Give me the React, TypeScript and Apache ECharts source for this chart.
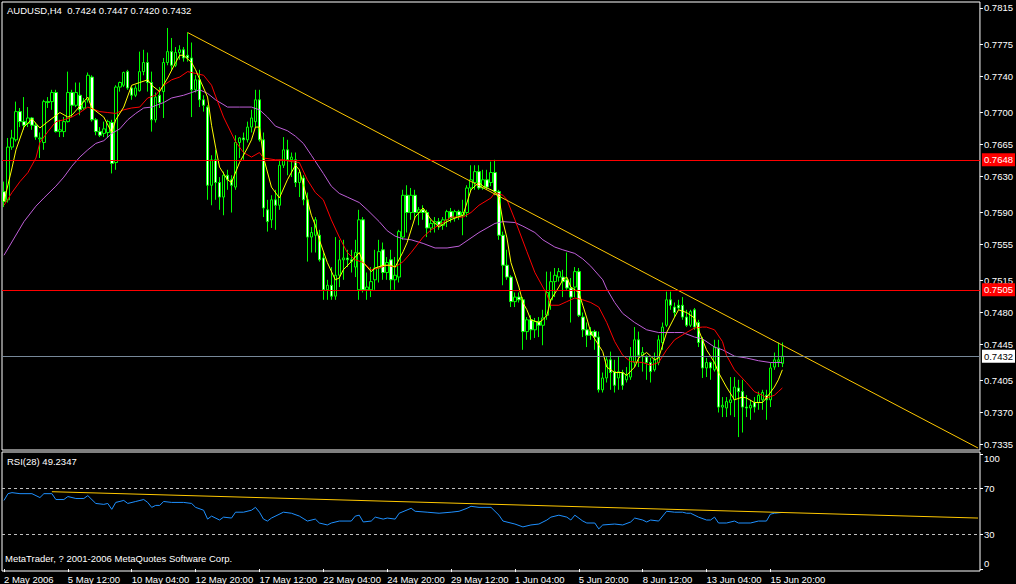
import React, { useEffect, useRef } from "react";
import * as echarts from "echarts";

// ---------- data ----------
const SYMBOL = "AUDUSD,H4";
const lastBar = [0.7424, 0.7447, 0.742, 0.7432]; // O H L C
const rsiLast = 49.2347;
const dateTicks = [
  "2 May 2006", "5 May 12:00", "10 May 04:00", "12 May 20:00", "17 May 12:00", "22 May 04:00",
  "24 May 20:00", "29 May 12:00", "1 Jun 04:00", "5 Jun 20:00", "8 Jun 12:00", "13 Jun 04:00", "15 Jun 20:00",
];
const BARS_PER_TICK = 16;
const SLOT_COUNT = 245;

const priceTicks = [0.7815, 0.7775, 0.774, 0.77, 0.7665, 0.763, 0.759, 0.7555, 0.7515, 0.748, 0.7445, 0.7405, 0.737, 0.7335];
const rsiTicks = [0, 30, 70, 100];
const hLines = [0.7648, 0.7505, 0.7432];
const rsiLevels = [70, 30];

const open = [
  0.7613, 0.7604, 0.7662, 0.767, 0.7701, 0.769, 0.7688, 0.7694, 0.7686, 0.7671,
  0.7667, 0.7712, 0.7712, 0.7722, 0.7679, 0.7679, 0.769, 0.7722, 0.7708, 0.7719,
  0.7705, 0.7714, 0.7739, 0.7692, 0.7679, 0.7677, 0.7678, 0.7689, 0.7645, 0.7728,
  0.773, 0.7745, 0.7727, 0.7719, 0.7724, 0.7745, 0.7755, 0.7733, 0.7692, 0.7719,
  0.7723, 0.7755, 0.7767, 0.7752, 0.7766, 0.7769, 0.7763, 0.776, 0.7725, 0.7736,
  0.7714, 0.7706, 0.762, 0.7648, 0.7623, 0.7607, 0.7631, 0.7626, 0.7618, 0.7667,
  0.7672, 0.767, 0.7684, 0.769, 0.7714, 0.767, 0.7593, 0.7582, 0.7604, 0.7598,
  0.7642, 0.7659, 0.7648, 0.7648, 0.7623, 0.7628, 0.7604, 0.7563, 0.7565, 0.7565,
  0.754, 0.7505, 0.751, 0.7498, 0.7521, 0.7538, 0.754, 0.7538, 0.753, 0.7505,
  0.7582, 0.7505, 0.7505, 0.7516, 0.7529, 0.7549, 0.7524, 0.7538, 0.7516, 0.7519,
  0.7563, 0.7609, 0.759, 0.7609, 0.759, 0.7593, 0.759, 0.7573, 0.7578, 0.758,
  0.7576, 0.7582, 0.7591, 0.7584, 0.7591, 0.7587, 0.759, 0.7617, 0.7623, 0.7635,
  0.7617, 0.7626, 0.7623, 0.7634, 0.7613, 0.7565, 0.7532, 0.7519, 0.7492, 0.7497,
  0.7494, 0.7459, 0.7472, 0.7461, 0.747, 0.7466, 0.7477, 0.7494, 0.7514, 0.7519,
  0.7519, 0.7516, 0.7507, 0.7508, 0.7525, 0.7475, 0.7461, 0.7459, 0.7459, 0.7453,
  0.7395, 0.7408, 0.7428, 0.7415, 0.7408, 0.7414, 0.7406, 0.7409, 0.7425, 0.745,
  0.7433, 0.7431, 0.7425, 0.7417, 0.7425, 0.7447, 0.7466, 0.7494, 0.7486, 0.7488,
  0.7488, 0.7475, 0.7466, 0.7483, 0.7469, 0.745, 0.7419, 0.7425, 0.7417, 0.7441,
  0.7376, 0.7375, 0.7381, 0.7384, 0.7397, 0.7393, 0.7376, 0.7375, 0.7381, 0.7381,
  0.7384, 0.7389, 0.7384, 0.742, 0.7426, 0.7424,
];
const high = [
  0.7624, 0.7672, 0.7681, 0.7712, 0.7705, 0.7717, 0.7706, 0.7695, 0.7689, 0.7678,
  0.7714, 0.7717, 0.7725, 0.7725, 0.7692, 0.7695, 0.7745, 0.7725, 0.7733, 0.7733,
  0.7716, 0.7744, 0.7741, 0.7694, 0.7684, 0.769, 0.7692, 0.7692, 0.773, 0.7734,
  0.7745, 0.7747, 0.7728, 0.773, 0.7767, 0.7769, 0.7766, 0.7745, 0.7722, 0.7728,
  0.776, 0.7793, 0.7782, 0.7772, 0.7774, 0.7772, 0.7788, 0.7777, 0.7741, 0.7747,
  0.7719, 0.7708, 0.7653, 0.7659, 0.7629, 0.7635, 0.7637, 0.7631, 0.7675, 0.7673,
  0.7678, 0.769, 0.7703, 0.7725, 0.7725, 0.7678, 0.7604, 0.7609, 0.7615, 0.7648,
  0.7673, 0.767, 0.7656, 0.7656, 0.7637, 0.7631, 0.7612, 0.7574, 0.7585, 0.7571,
  0.7546, 0.7516, 0.753, 0.7563, 0.756, 0.756, 0.7549, 0.7549, 0.756, 0.7593,
  0.7585, 0.7524, 0.753, 0.7549, 0.756, 0.7557, 0.7541, 0.7549, 0.7541, 0.7571,
  0.7615, 0.762, 0.7617, 0.7615, 0.7596, 0.7598, 0.7593, 0.7582, 0.7585, 0.7584,
  0.7585, 0.7593, 0.7595, 0.7593, 0.7593, 0.7604, 0.762, 0.7642, 0.7642, 0.7642,
  0.7637, 0.7637, 0.7646, 0.7648, 0.7615, 0.7569, 0.7549, 0.7521, 0.7502, 0.7502,
  0.7497, 0.7475, 0.7477, 0.7474, 0.7475, 0.7483, 0.7525, 0.7525, 0.7529, 0.7529,
  0.7527, 0.7546, 0.7518, 0.753, 0.7529, 0.748, 0.7469, 0.7464, 0.7461, 0.7459,
  0.7414, 0.7431, 0.7437, 0.7428, 0.7431, 0.7417, 0.742, 0.7442, 0.7464, 0.7459,
  0.7442, 0.7433, 0.743, 0.7436, 0.7455, 0.7469, 0.7503, 0.7503, 0.7491, 0.7494,
  0.7497, 0.7483, 0.7483, 0.7485, 0.7472, 0.7453, 0.743, 0.7426, 0.745, 0.745,
  0.7387, 0.7387, 0.7409, 0.7409, 0.7406, 0.7406, 0.7389, 0.7384, 0.7387, 0.7393,
  0.7395, 0.7395, 0.7425, 0.7436, 0.7447, 0.7447,
];
const low = [
  0.7596, 0.7601, 0.7659, 0.7668, 0.7684, 0.7681, 0.7684, 0.7681, 0.767, 0.765,
  0.7659, 0.7705, 0.7703, 0.7678, 0.7673, 0.7673, 0.7689, 0.7695, 0.7706, 0.7697,
  0.7703, 0.7711, 0.769, 0.7675, 0.7673, 0.7673, 0.7672, 0.7633, 0.7637, 0.7723,
  0.7728, 0.7725, 0.7714, 0.7717, 0.7723, 0.7741, 0.7723, 0.7679, 0.7689, 0.7705,
  0.7694, 0.7752, 0.7747, 0.775, 0.7758, 0.7756, 0.7756, 0.7695, 0.7722, 0.7706,
  0.7701, 0.7604, 0.7598, 0.7604, 0.7593, 0.7587, 0.7615, 0.759, 0.7615, 0.765,
  0.7648, 0.7667, 0.7678, 0.7684, 0.7668, 0.7585, 0.7569, 0.7573, 0.7571, 0.7593,
  0.7639, 0.7631, 0.7629, 0.7618, 0.7607, 0.7598, 0.7536, 0.7546, 0.7546, 0.7536,
  0.7494, 0.7494, 0.7494, 0.7494, 0.7508, 0.7516, 0.753, 0.7524, 0.7519, 0.7494,
  0.7502, 0.7494, 0.7497, 0.7505, 0.7513, 0.7516, 0.7516, 0.7505, 0.7505, 0.7513,
  0.756, 0.7568, 0.7582, 0.7582, 0.7576, 0.7582, 0.7563, 0.7568, 0.7568, 0.7571,
  0.7571, 0.7574, 0.7579, 0.758, 0.7582, 0.7565, 0.7585, 0.7613, 0.7615, 0.7615,
  0.7615, 0.7615, 0.7619, 0.7609, 0.756, 0.751, 0.7516, 0.7486, 0.7486, 0.7491,
  0.7439, 0.745, 0.745, 0.7452, 0.7453, 0.7444, 0.7472, 0.7483, 0.7497, 0.7514,
  0.7497, 0.7505, 0.7469, 0.7497, 0.7475, 0.7453, 0.7442, 0.745, 0.7439, 0.7392,
  0.7392, 0.7403, 0.7395, 0.7392, 0.7395, 0.7395, 0.7403, 0.7406, 0.742, 0.742,
  0.7415, 0.7406, 0.7403, 0.7415, 0.7422, 0.7439, 0.7464, 0.7483, 0.7475, 0.7483,
  0.7472, 0.7464, 0.7464, 0.7461, 0.7442, 0.7408, 0.7409, 0.7406, 0.7415, 0.737,
  0.7365, 0.7365, 0.7367, 0.7365, 0.7343, 0.7348, 0.7365, 0.7362, 0.737, 0.7373,
  0.7373, 0.7362, 0.7376, 0.7417, 0.742, 0.742,
];
const close = [
  0.7602, 0.7662, 0.7672, 0.7701, 0.769, 0.7686, 0.7694, 0.7686, 0.7673, 0.7672,
  0.7712, 0.7711, 0.7722, 0.7679, 0.7681, 0.769, 0.7722, 0.7708, 0.7722, 0.7703,
  0.7712, 0.7741, 0.7692, 0.7679, 0.7675, 0.7682, 0.769, 0.7644, 0.7728, 0.7733,
  0.7744, 0.7727, 0.7719, 0.7727, 0.7745, 0.7755, 0.7733, 0.7692, 0.7717, 0.7711,
  0.7755, 0.7767, 0.7752, 0.7766, 0.7769, 0.776, 0.776, 0.7725, 0.7736, 0.7714,
  0.7708, 0.762, 0.7648, 0.7623, 0.7607, 0.7631, 0.7626, 0.762, 0.7667, 0.7672,
  0.767, 0.7684, 0.7694, 0.7714, 0.767, 0.7595, 0.758, 0.7604, 0.7598, 0.7642,
  0.7659, 0.7648, 0.7651, 0.7623, 0.7634, 0.7604, 0.7563, 0.7568, 0.7582, 0.7538,
  0.7505, 0.751, 0.7498, 0.7521, 0.7538, 0.754, 0.7538, 0.7536, 0.7546, 0.7582,
  0.7505, 0.7508, 0.7514, 0.7529, 0.7547, 0.7524, 0.7535, 0.7516, 0.7521, 0.7569,
  0.7609, 0.759, 0.7609, 0.759, 0.7593, 0.759, 0.7573, 0.7578, 0.758, 0.7576,
  0.7582, 0.7591, 0.7584, 0.7591, 0.7587, 0.759, 0.7617, 0.7626, 0.7635, 0.7617,
  0.7626, 0.7618, 0.7634, 0.7613, 0.7565, 0.7532, 0.7519, 0.7492, 0.7497, 0.7494,
  0.7459, 0.7472, 0.7461, 0.747, 0.7466, 0.7474, 0.7502, 0.7514, 0.7521, 0.7525,
  0.7514, 0.7507, 0.7497, 0.7525, 0.7477, 0.7461, 0.7455, 0.7455, 0.7453, 0.7395,
  0.7408, 0.7428, 0.7414, 0.74, 0.7415, 0.74, 0.7411, 0.7431, 0.745, 0.7433,
  0.7436, 0.7425, 0.7415, 0.7428, 0.745, 0.7464, 0.7494, 0.7488, 0.748, 0.7485,
  0.7475, 0.7466, 0.7481, 0.7464, 0.7447, 0.7419, 0.7425, 0.7419, 0.7442, 0.7376,
  0.7378, 0.7382, 0.7384, 0.7398, 0.7393, 0.7376, 0.7375, 0.7378, 0.7376, 0.7389,
  0.7392, 0.7384, 0.7419, 0.7428, 0.7428, 0.7432,
];

// moving averages: [bar index, price]
const maFast: [number, number][] = [
  [0, 0.7602], [2, 0.7639], [3, 0.7659], [5, 0.7684], [7, 0.7693], [9, 0.7683], [11, 0.769], [14, 0.77], [16, 0.7695], [17, 0.7697],
  [19, 0.7707], [21, 0.7717], [22, 0.7705], [25, 0.7695], [27, 0.7678], [28, 0.7692], [30, 0.7706], [32, 0.773], [34, 0.7733], [36, 0.7736],
  [37, 0.773], [39, 0.7723], [41, 0.7738], [43, 0.7755], [44, 0.7763], [45, 0.7763], [47, 0.7755], [48, 0.7747], [51, 0.7717], [52, 0.7686],
  [53, 0.7662], [54, 0.764], [56, 0.7626], [57, 0.7623], [59, 0.7645], [61, 0.7661], [62, 0.767], [63, 0.7684], [64, 0.7684], [65, 0.7651],
  [67, 0.7618], [69, 0.7606], [71, 0.7626], [73, 0.7642], [74, 0.7637], [76, 0.7604], [77, 0.7587], [78, 0.7576], [79, 0.756], [81, 0.7535],
  [83, 0.7516], [84, 0.7518], [85, 0.7527], [87, 0.7536], [89, 0.7546], [90, 0.7535], [92, 0.7525], [93, 0.7529], [95, 0.7532], [97, 0.7532],
  [98, 0.753], [100, 0.7547], [101, 0.7557], [103, 0.7585], [105, 0.7595], [107, 0.7582], [109, 0.7574], [111, 0.758], [113, 0.7584], [115, 0.7587],
  [117, 0.7615], [119, 0.7623], [120, 0.7619], [123, 0.7613], [124, 0.7606], [125, 0.758], [126, 0.7562], [127, 0.7535], [129, 0.7508], [130, 0.7491],
  [131, 0.7483], [132, 0.7472], [134, 0.7469], [135, 0.7472], [136, 0.7477], [137, 0.7494], [139, 0.7508], [140, 0.7516], [141, 0.7519], [142, 0.7508],
  [144, 0.7502], [145, 0.7488], [146, 0.7474], [147, 0.7458], [149, 0.7444], [150, 0.7437], [151, 0.742], [153, 0.7414], [155, 0.7414], [156, 0.7411],
  [158, 0.742], [159, 0.743], [160, 0.7433], [161, 0.7436], [163, 0.7428], [164, 0.743], [166, 0.7458], [168, 0.7475], [169, 0.7483], [171, 0.748],
  [173, 0.7474], [174, 0.7461], [176, 0.7439], [178, 0.7425], [179, 0.7414], [181, 0.7398], [183, 0.7384], [185, 0.7387], [186, 0.7386], [188, 0.7381],
  [190, 0.7381], [191, 0.7386], [193, 0.7398], [194, 0.7406], [195, 0.7417],
];
const maMid: [number, number][] = [
  [0, 0.7598], [2, 0.7612], [4, 0.7624], [6, 0.7634], [8, 0.765], [9, 0.7667], [11, 0.7679], [13, 0.769], [15, 0.7692], [17, 0.7695],
  [19, 0.77], [21, 0.7706], [24, 0.7701], [26, 0.77], [28, 0.7699], [30, 0.7703], [32, 0.7705], [34, 0.7706], [36, 0.7716], [38, 0.7719],
  [40, 0.773], [42, 0.7736], [44, 0.7739], [46, 0.7745], [48, 0.7743], [50, 0.7741], [52, 0.773], [53, 0.7718], [55, 0.7695], [58, 0.7668],
  [60, 0.7656], [62, 0.7651], [64, 0.7656], [65, 0.765], [68, 0.7648], [70, 0.7648], [72, 0.7646], [74, 0.7645], [76, 0.7626], [78, 0.7612],
  [80, 0.7604], [82, 0.7582], [84, 0.7563], [86, 0.7546], [88, 0.7538], [90, 0.7535], [92, 0.7527], [94, 0.7529], [96, 0.7532], [98, 0.753],
  [100, 0.7536], [102, 0.7546], [105, 0.7563], [107, 0.7571], [110, 0.7579], [112, 0.7585], [115, 0.7585], [117, 0.759], [119, 0.7598], [122, 0.7606],
  [123, 0.7612], [125, 0.7609], [126, 0.7604], [128, 0.7582], [131, 0.7547], [133, 0.7524], [136, 0.75], [137, 0.7488], [139, 0.7488], [141, 0.7492],
  [143, 0.7496], [145, 0.7494], [147, 0.7491], [149, 0.7486], [151, 0.7469], [153, 0.7448], [155, 0.7433], [157, 0.7426], [160, 0.7425], [162, 0.7422],
  [164, 0.7425], [166, 0.7439], [168, 0.745], [171, 0.7458], [173, 0.7463], [175, 0.7464], [176, 0.7464], [178, 0.7461], [180, 0.7448], [181, 0.7433],
  [183, 0.7417], [186, 0.7403], [188, 0.7393], [190, 0.7389], [191, 0.7386], [193, 0.7389], [194, 0.7393], [195, 0.7397],
];
const maSlow: [number, number][] = [
  [0, 0.7543], [5, 0.758], [8, 0.7597], [10, 0.7606], [13, 0.7619], [15, 0.7629], [17, 0.7641], [19, 0.7651], [21, 0.7659], [23, 0.7666],
  [25, 0.7669], [27, 0.7677], [29, 0.7682], [31, 0.7692], [33, 0.7699], [35, 0.7705], [37, 0.7706], [40, 0.7711], [42, 0.7716], [45, 0.7719],
  [47, 0.7722], [49, 0.7725], [51, 0.7721], [53, 0.7714], [56, 0.7706], [59, 0.7706], [62, 0.7706], [64, 0.7703], [66, 0.7695], [68, 0.7685],
  [71, 0.768], [73, 0.7674], [75, 0.7666], [77, 0.7653], [80, 0.7633], [82, 0.7619], [84, 0.7611], [86, 0.7607], [89, 0.7601], [91, 0.7593],
  [94, 0.758], [96, 0.757], [98, 0.7564], [100, 0.7561], [102, 0.756], [105, 0.7556], [108, 0.7551], [111, 0.7551], [114, 0.7553], [116, 0.7559],
  [119, 0.7568], [121, 0.7573], [123, 0.7578], [125, 0.758], [128, 0.7579], [130, 0.7575], [133, 0.7568], [135, 0.756], [138, 0.7552], [140, 0.7549],
  [143, 0.7545], [145, 0.7539], [147, 0.7531], [150, 0.7516], [151, 0.7506], [153, 0.7491], [155, 0.7479], [158, 0.7469], [161, 0.7461], [164, 0.7458],
  [168, 0.7458], [170, 0.7458], [173, 0.7453], [175, 0.7451], [178, 0.7442], [180, 0.7439], [183, 0.7432], [186, 0.743], [189, 0.7427], [192, 0.7425],
  [195, 0.7425],
];
const priceTrend: [number, number][] = [[46, 0.7788], [244, 0.7331]];

// RSI(28): [bar index, value]
const rsi: [number, number][] = [
  [0, 59.6], [1, 65.5], [2, 66.4], [4, 65.5], [7, 65.5], [9, 62.1], [10, 65.5], [12, 65.5], [13, 60.4], [15, 60.4],
  [16, 63.0], [18, 61.3], [20, 61.3], [21, 63.8], [23, 57.0], [25, 56.2], [26, 57.0], [27, 51.9], [28, 57.9], [30, 59.6],
  [31, 57.0], [33, 58.7], [35, 60.4], [36, 57.9], [37, 53.6], [38, 55.3], [39, 55.3], [40, 58.7], [42, 57.9], [45, 57.9],
  [47, 57.0], [48, 53.6], [50, 51.1], [51, 43.4], [52, 46.0], [54, 42.6], [55, 45.1], [57, 44.3], [58, 49.4], [60, 49.4],
  [62, 51.1], [63, 53.6], [64, 49.4], [65, 43.4], [66, 41.7], [67, 44.3], [70, 49.4], [72, 48.5], [74, 46.0], [76, 41.7],
  [78, 43.4], [79, 40.0], [81, 38.3], [82, 40.0], [84, 41.7], [87, 41.7], [88, 46.0], [89, 46.8], [90, 40.9], [92, 41.7],
  [93, 45.1], [95, 43.4], [96, 44.3], [98, 43.4], [99, 48.5], [102, 52.8], [103, 50.2], [106, 49.4], [109, 48.5], [112, 49.4],
  [114, 50.2], [116, 52.8], [117, 54.5], [119, 53.6], [121, 53.6], [122, 53.6], [124, 46.8], [125, 41.7], [128, 39.1], [130, 36.6],
  [132, 38.3], [134, 39.1], [136, 42.6], [137, 45.1], [139, 46.8], [141, 45.1], [142, 42.6], [143, 46.8], [145, 41.7], [146, 40.0],
  [148, 40.0], [149, 34.9], [150, 38.3], [153, 39.1], [155, 38.3], [157, 40.9], [158, 44.3], [160, 42.6], [161, 40.9], [162, 42.6],
  [164, 41.7], [166, 50.2], [168, 49.4], [170, 49.4], [171, 48.5], [172, 48.5], [174, 45.1], [176, 42.6], [177, 42.6], [178, 45.1],
  [179, 40.0], [181, 40.0], [183, 41.7], [184, 40.0], [187, 40.0], [189, 41.7], [191, 41.7], [192, 47.7], [193, 48.5], [195, 49.2347],
];
const rsiTrend: [number, number][] = [[12, 67.2], [244, 44.3]];

// ---------- styling ----------
const FONT = "Liberation Sans";
const FS = 9.5;
const C_CANDLE = "#00ff00";
const C_FAST = "#ffff00";
const C_MID = "#ff0000";
const C_SLOW = "#bf5fd8";
const C_TREND = "#ffc800";
const C_RSI = "#1e90ff";
const hLineColors = ["#ff0000", "#ff0000", "#778899"];
const hLabelBg = ["#ff0000", "#ff0000", "#ffffff"];
const hLabelFg = ["#ffffff", "#ffffff", "#000000"];

export default function App() {
  const ref = useRef<HTMLDivElement>(null);

  useEffect(() => {
    if (!ref.current) return;
    const chart = echarts.init(ref.current, null, { renderer: "svg" });
    const slots = Array.from({ length: SLOT_COUNT }, (_, i) => String(i));
    const candles = open.map((o, i) => [o, close[i], low[i], high[i]]);
    const isTick = (idx: number) => idx % BARS_PER_TICK === 0 && idx / BARS_PER_TICK < dateTicks.length;

    const lineSeries = (data: [number, number][], color: string, x = 0) => ({
      type: "line",
      xAxisIndex: x,
      yAxisIndex: x,
      data,
      showSymbol: false,
      symbol: "none",
      silent: true,
      lineStyle: { color, width: 1 },
      itemStyle: { color },
      connectNulls: true,
    });

    // one series per horizontal level so each keeps its own colour
    const levelSeries = hLines.map((v, i) => ({
      type: "line",
      xAxisIndex: 0,
      yAxisIndex: 0,
      data: [],
      silent: true,
      z: 5,
      markLine: {
        symbol: ["none", "none"],
        silent: true,
        precision: 4,
        z: 5,
        lineStyle: { color: hLineColors[i], width: 1, type: "solid", opacity: 1 },
        label: {
          show: true,
          position: "end",
          distance: 2,
          fontFamily: FONT,
          fontSize: FS,
          padding: [2, 2, 1, 2],
          backgroundColor: hLabelBg[i],
          color: hLabelFg[i],
          formatter: () => v.toFixed(4),
        },
        emphasis: { disabled: true },
        data: [{ yAxis: v }],
      },
    }));

    const option: any = {
      animation: false,
      backgroundColor: "#000000",
      textStyle: { fontFamily: FONT, fontSize: FS, color: "#ffffff" },
      grid: [
        { left: 2, top: 2, width: 978, height: 448, show: true, borderColor: "#ffffff", borderWidth: 1, backgroundColor: "#000000" },
        { left: 2, top: 452, width: 978, height: 120, show: true, borderColor: "#ffffff", borderWidth: 1, backgroundColor: "#000000" },
      ],
      xAxis: [
        { type: "category", gridIndex: 0, data: slots, boundaryGap: true, show: false },
        {
          type: "category",
          gridIndex: 1,
          data: slots,
          boundaryGap: true,
          axisLine: { show: false },
          axisTick: { show: true, alignWithLabel: true, interval: (i: number) => isTick(i), length: 3, lineStyle: { color: "#ffffff" } },
          axisLabel: {
            interval: (i: number) => isTick(i),
            formatter: (_v: string, i: number) => (isTick(i) ? dateTicks[i / BARS_PER_TICK] : ""),
            color: "#ffffff",
            fontFamily: FONT,
            fontSize: FS,
            align: "left",
            margin: 3,
          },
          splitLine: { show: false },
        },
      ],
      yAxis: [
        {
          type: "value",
          gridIndex: 0,
          position: "right",
          min: 0.732878,
          max: 0.782158,
          splitLine: { show: false },
          axisLine: { show: false },
          axisTick: { show: true, customValues: priceTicks, length: 3, lineStyle: { color: "#ffffff" } },
          axisLabel: { customValues: priceTicks, formatter: (v: number) => v.toFixed(4), color: "#ffffff", fontFamily: FONT, fontSize: FS, margin: 4 },
        },
        {
          type: "value",
          gridIndex: 1,
          position: "right",
          min: -1.7,
          max: 101.7,
          splitLine: { show: false },
          axisLine: { show: false },
          axisTick: { show: true, customValues: rsiTicks, length: 3, lineStyle: { color: "#ffffff" } },
          axisLabel: {
            customValues: rsiTicks,
            formatter: (v: number) => (v === 100 ? "{top|100}" : v === 0 ? "{bot|0}" : String(v)),
            rich: {
              top: { padding: [10, 0, 0, 0], color: "#ffffff", fontFamily: FONT, fontSize: FS },
              bot: { padding: [0, 0, 12, 0], color: "#ffffff", fontFamily: FONT, fontSize: FS },
            },
            color: "#ffffff",
            fontFamily: FONT,
            fontSize: FS,
            margin: 4,
          },
        },
      ],
      series: [
        {
          type: "candlestick",
          xAxisIndex: 0,
          yAxisIndex: 0,
          data: candles,
          barWidth: 3,
          silent: true,
          z: 2,
          itemStyle: { color: "#000000", color0: "#ffffff", borderColor: C_CANDLE, borderColor0: C_CANDLE, borderWidth: 1 },
        },
        lineSeries(maSlow, C_SLOW),
        lineSeries(maMid, C_MID),
        lineSeries(maFast, C_FAST),
        lineSeries(priceTrend, C_TREND),
        ...levelSeries,
        {
          ...lineSeries(rsi, C_RSI, 1),
          markLine: {
            symbol: ["none", "none"],
            silent: true,
            label: { show: false },
            lineStyle: { color: "#c0c0c0", width: 1, type: [3, 3] },
            data: rsiLevels.map((v) => ({ yAxis: v })),
          },
        },
        lineSeries(rsiTrend, C_TREND, 1),
      ],
      graphic: [
        {
          type: "text",
          left: 7,
          top: 5,
          style: { text: `${SYMBOL}  ${lastBar.map((v) => v.toFixed(4)).join(" ")}`, fill: "#ffffff", fontFamily: FONT, fontSize: FS },
        },
        {
          type: "text",
          left: 7,
          top: 456,
          style: { text: `RSI(28) ${rsiLast.toFixed(4)}`, fill: "#ffffff", fontFamily: FONT, fontSize: FS },
        },
        {
          type: "text",
          left: 5,
          top: 553,
          style: { text: "MetaTrader, ? 2001-2006 MetaQuotes Software Corp.", fill: "#ffffff", fontFamily: FONT, fontSize: FS },
        },
      ],
    };

    chart.setOption(option);
    return () => chart.dispose();
  }, []);

  return (
    <div
      ref={ref}
      style={{ position: "fixed", left: 0, top: 0, width: 1016, height: 584, background: "#000000" }}
    />
  );
}
